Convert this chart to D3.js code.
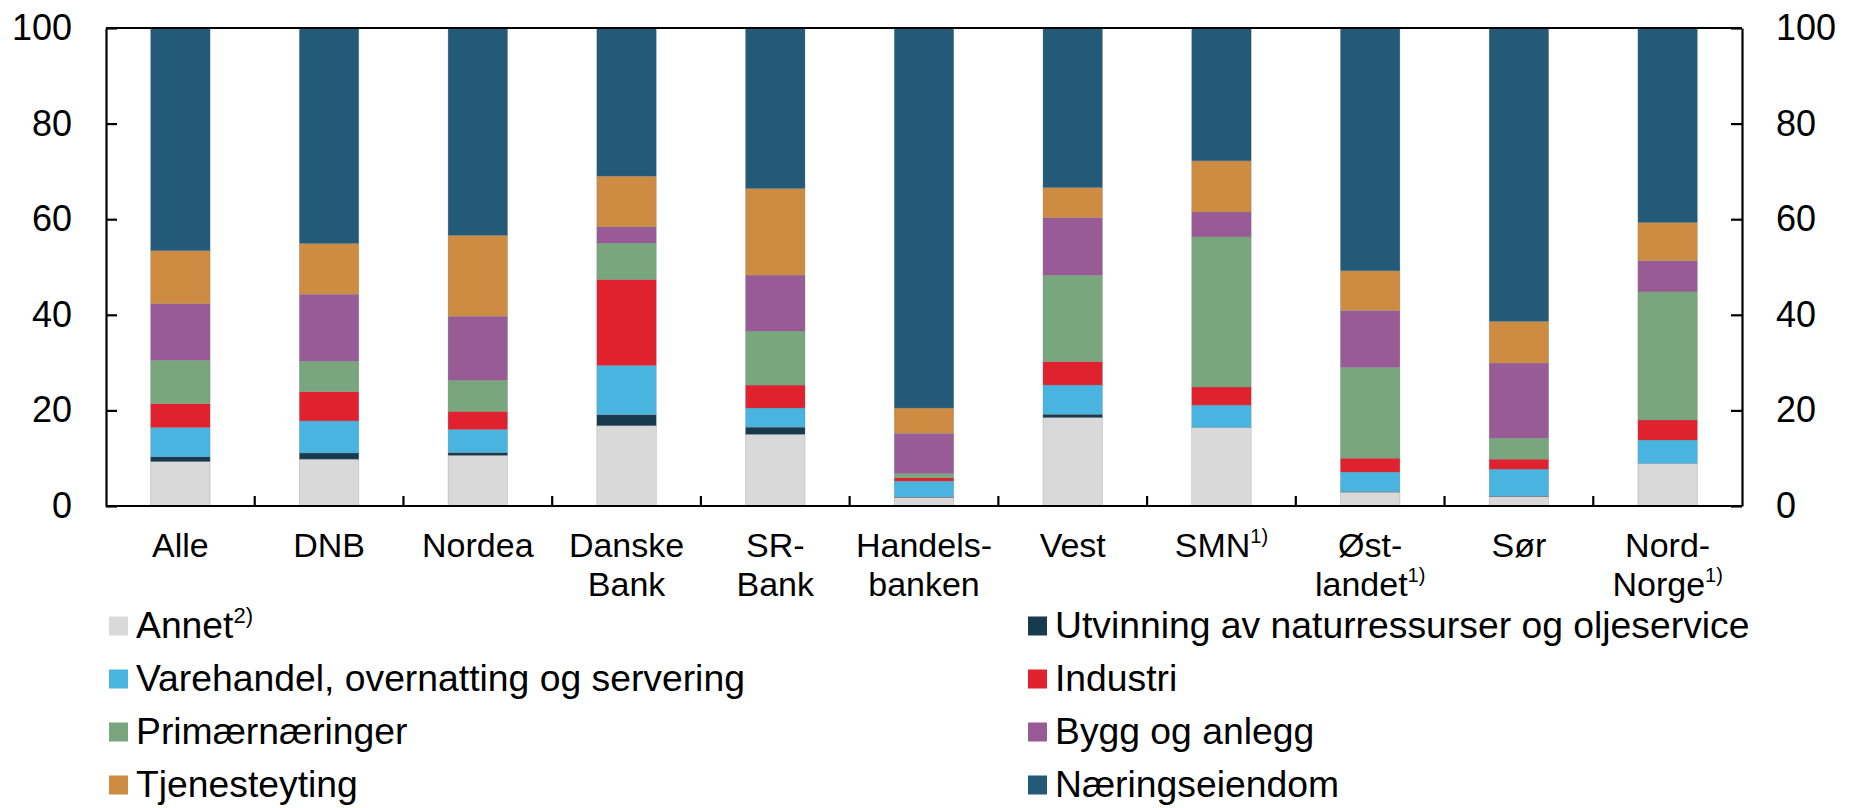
<!DOCTYPE html>
<html>
<head>
<meta charset="utf-8">
<script src="https://cdn.jsdelivr.net/npm/d3@7"></script>
<style>
    body { margin: 0; background: #fff; }
    svg { display: block; font-family: Arial, "Liberation Sans", sans-serif; }
</style>
</head>
<body>
<div id="chart"></div>
<script>

// banks (lines split on "|", superscript after "^")
var banks = ["Alle", "DNB", "Nordea", "Danske|Bank", "SR-|Bank", "Handels-|banken", "Vest", "SMN^1)", "Øst-|landet^1)", "Sør", "Nord-|Norge^1)"];

var sectors = ["Annet^2)", "Utvinning av naturressurser og oljeservice", "Varehandel, overnatting og servering", "Industri", "Primærnæringer", "Bygg og anlegg", "Tjenesteyting", "Næringseiendom"];

var colors = ["#d9d9d9", "#173a4f", "#4ab4e1", "#df222d", "#79a67c", "#985b95", "#ce8c42", "#235a78"];

// share of each sector, one value per bank (percent)
var annet        = [9.3, 9.8, 10.6, 16.8, 15.0, 1.8, 18.5, 16.4, 2.9, 2.0, 8.9];
var utvinning    = [1.0, 1.3, 0.6, 2.3, 1.5, 0.1, 0.7, 0.0, 0.1, 0.1, 0.0];
var varehandel   = [6.1, 6.7, 4.8, 10.3, 4.0, 3.3, 6.1, 4.7, 4.1, 5.6, 4.9];
var industri     = [5.0, 6.1, 3.8, 18.0, 4.8, 0.7, 4.9, 3.8, 2.9, 2.1, 4.2];
var primaer      = [9.1, 6.4, 6.5, 7.6, 11.3, 0.9, 18.1, 31.4, 19.0, 4.4, 26.8];
var bygg         = [11.8, 14.0, 13.4, 3.4, 11.7, 8.4, 12.0, 5.2, 11.9, 15.7, 6.5];
var tjeneste     = [11.1, 10.6, 16.9, 10.6, 18.1, 5.3, 6.3, 10.7, 8.3, 8.7, 8.0];
var naering      = [46.6, 45.1, 43.4, 31.0, 33.6, 79.5, 33.4, 27.8, 50.8, 61.4, 40.7];

var yTicks = [0, 20, 40, 60, 80, 100];

var series = [annet, utvinning, varehandel, industri, primaer, bygg, tjeneste, naering];

var rows = banks.map(function(b, i) {
    var row = { bank: b };
    sectors.forEach(function(s, j) { row[s] = series[j][i]; });
    return row;
});

var W = 1852, H = 808;
var margin = {top: 28, right: 110, bottom: 302, left: 106};
var width = W - margin.left - margin.right,
    height = H - margin.top - margin.bottom;

var svg = d3.select("#chart").append("svg")
    .attr("width", W)
    .attr("height", H);

var g = svg.append("g")
    .attr("transform", "translate(" + margin.left + "," + margin.top + ")");

var x = d3.scaleBand()
    .domain(banks)
    .range([0, width])
    .paddingInner(0.6)
    .paddingOuter(0.3);

var y = d3.scaleLinear()
    .domain([0, 100])
    .range([height, 0]);

var stacked = d3.stack().keys(sectors)(rows);

// bars
g.selectAll(".layer")
    .data(stacked)
    .enter()
    .append("g")
    .attr("class", "layer")
    .attr("fill", function(d, i) { return colors[i]; })
    .selectAll("rect")
    .data(function(d) { return d; })
    .enter()
    .append("rect")
    .attr("x", function(d) { return x(d.data.bank); })
    .attr("width", x.bandwidth())
    .attr("y", function(d) { return y(d[1]); })
    .attr("height", function(d) { return Math.max(0, y(d[0]) - y(d[1])); })
    .attr("stroke", "rgba(120,130,140,0.45)")
    .attr("stroke-width", 0.6);

// axes, ticks point inwards on both sides
g.append("g")
    .call(d3.axisLeft(y).tickValues(yTicks).tickSize(-11).tickSizeOuter(0).tickPadding(34));
g.append("g")
    .attr("transform", "translate(" + width + ",0)")
    .call(d3.axisRight(y).tickValues(yTicks).tickSize(-11).tickSizeOuter(0).tickPadding(34));

g.selectAll(".tick text")
    .attr("font-size", 36)
    .attr("fill", "#000");
g.selectAll(".domain, .tick line")
    .attr("stroke", "#000")
    .attr("stroke-width", 2.2);

// top and bottom frame
g.append("line")
    .attr("x1", 0).attr("x2", width)
    .attr("y1", 0).attr("y2", 0)
    .attr("stroke", "#000").attr("stroke-width", 2.2);
g.append("line")
    .attr("x1", 0).attr("x2", width)
    .attr("y1", height).attr("y2", height)
    .attr("stroke", "#000").attr("stroke-width", 2.2);

// category ticks between bars
g.selectAll(".cat-tick")
    .data(banks.slice(1))
    .enter()
    .append("line")
    .attr("x1", function(d) { return x(d) - x.step() * x.paddingInner() / 2; })
    .attr("x2", function(d) { return x(d) - x.step() * x.paddingInner() / 2; })
    .attr("y1", height)
    .attr("y2", height - 10)
    .attr("stroke", "#000")
    .attr("stroke-width", 2.2);

// x labels
var xl = g.selectAll(".xlab")
    .data(banks)
    .enter()
    .append("text")
    .attr("class", "xlab")
    .attr("text-anchor", "middle")
    .attr("font-size", 34)
    .attr("transform", function(d) { return "translate(" + (x(d) + x.bandwidth() / 2) + "," + (557 - margin.top) + ")"; });

xl.each(function(d) {
    var t = d3.select(this);
    d.split("|").forEach(function(line, i) {
        var parts = line.split("^");
        t.append("tspan").attr("x", 0).attr("y", i * 39).text(parts[0]);
        if (parts[1]) {
            t.append("tspan")
                .attr("font-size", 20)
                .attr("dy", -14)
                .text(parts[1]);
        }
    });
});

// legend, two columns
var lItems = svg.append("g")
    .selectAll(".leg")
    .data(sectors)
    .enter()
    .append("g")
    .attr("transform", function(d, i) {
        var col = i % 2, row = Math.floor(i / 2);
        return "translate(" + (col == 0 ? 109 : 1028) + "," + (626 + row * 53) + ")";
    });

lItems.append("rect")
    .attr("x", 0)
    .attr("y", -9.5)
    .attr("width", 19)
    .attr("height", 19)
    .attr("fill", function(d, i) { return colors[i]; });

lItems.append("text")
    .attr("x", 27)
    .attr("y", 12)
    .attr("font-size", 37.3)
    .each(function(d) {
        var t = d3.select(this);
        var parts = d.split("^");
        t.append("tspan").text(parts[0]);
        if (parts[1]) {
            t.append("tspan")
                .attr("font-size", 22)
                .attr("dy", -15)
                .text(parts[1]);
        }
    });

</script>
</body>
</html>
